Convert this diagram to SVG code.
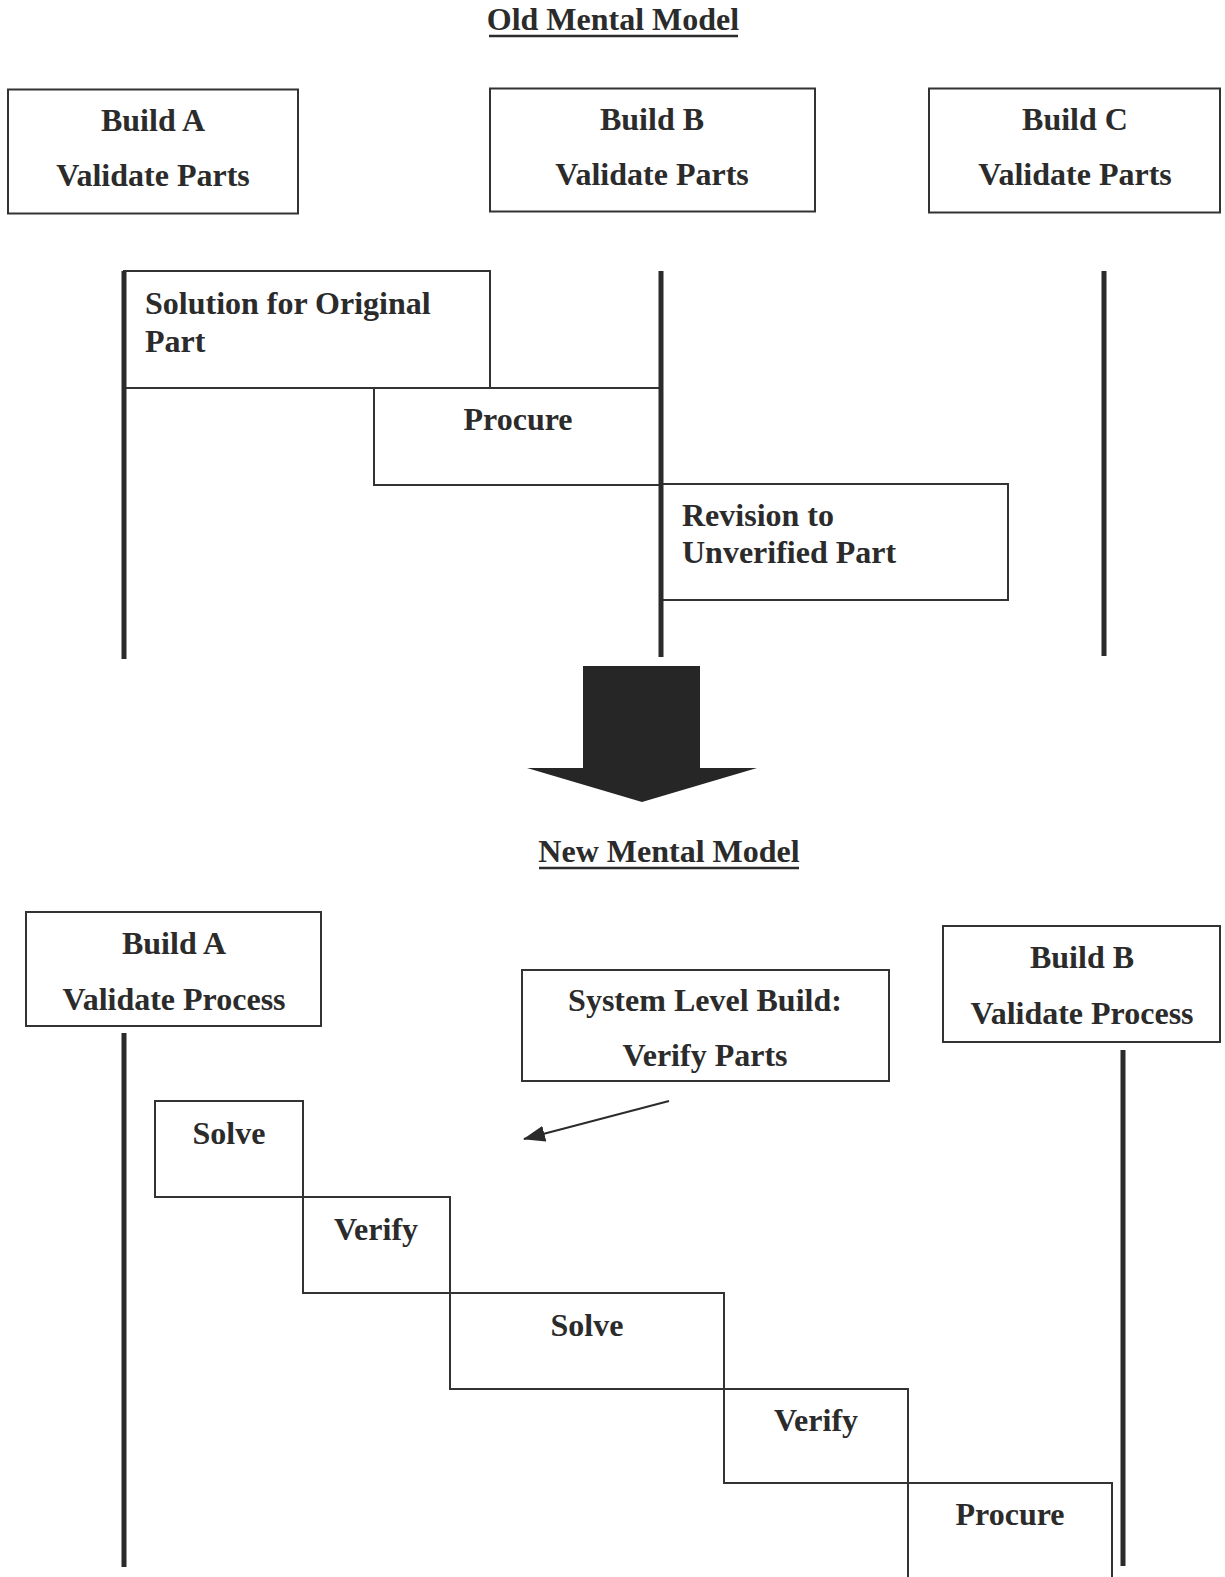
<svg xmlns="http://www.w3.org/2000/svg" width="1225" height="1577" viewBox="0 0 1225 1577">
  <defs>
    <style>
      .box { fill: none; stroke: #333; stroke-width: 2; }
      .bar { stroke: #2b2b2b; stroke-width: 5; fill: none; }
      .t { font-family: "Liberation Serif", "Times New Roman", serif; font-weight: bold; font-size: 32px; fill: #2b2b2b; }
      .c { text-anchor: middle; }
      .ul { stroke: #2b2b2b; stroke-width: 2.5; }
      .link { stroke: #2b2b2b; stroke-width: 2; fill: none; }
    </style>
    <marker id="head" viewBox="0 0 22 16" refX="21" refY="8" markerWidth="22" markerHeight="16" markerUnits="userSpaceOnUse" orient="auto">
      <path d="M0,0 L22,8 L0,16 Z" fill="#2b2b2b"/>
    </marker>
  </defs>
  <rect width="1225" height="1577" fill="#fff"/>

  <!-- Old model -->
  <g id="title-old">
    <text class="t c" x="613" y="30">Old Mental Model</text>
    <line class="ul" x1="489" y1="36" x2="738" y2="36"/>
  </g>
  <g id="old-build-a">
    <rect class="box" x="8" y="89.5" width="290" height="124"/>
    <text class="t c" x="153" y="131">Build A</text>
    <text class="t c" x="153" y="186">Validate Parts</text>
  </g>
  <g id="old-build-b">
    <rect class="box" x="490" y="88.5" width="325" height="123"/>
    <text class="t c" x="652" y="130">Build B</text>
    <text class="t c" x="652" y="185">Validate Parts</text>
  </g>
  <g id="old-build-c">
    <rect class="box" x="929" y="88.5" width="291" height="124"/>
    <text class="t c" x="1075" y="130">Build C</text>
    <text class="t c" x="1075" y="185">Validate Parts</text>
  </g>
  <g id="old-solution">
    <rect class="box" x="124" y="271" width="366" height="117"/>
    <text class="t" x="145" y="314">Solution for Original</text>
    <text class="t" x="145" y="352">Part</text>
  </g>
  <g id="old-procure">
    <rect class="box" x="374" y="388" width="287" height="97"/>
    <text class="t c" x="518" y="430">Procure</text>
  </g>
  <g id="old-revision">
    <rect class="box" x="661" y="484" width="347" height="116"/>
    <text class="t" x="682" y="526">Revision to</text>
    <text class="t" x="682" y="563">Unverified Part</text>
  </g>
  <g id="old-timelines">
    <line class="bar" x1="124" y1="271" x2="124" y2="659"/>
    <line class="bar" x1="661" y1="271" x2="661" y2="657"/>
    <line class="bar" x1="1104" y1="271" x2="1104" y2="656"/>
  </g>

  <!-- Transition arrow -->
  <g id="transition-arrow">
    <path d="M583,666 L700,666 L700,768 L757,768 L642,802 L527,768 L583,768 Z" fill="#262626"/>
  </g>

  <!-- New model -->
  <g id="title-new">
    <text class="t c" x="669" y="862">New Mental Model</text>
    <line class="ul" x1="539" y1="868" x2="799" y2="868"/>
  </g>
  <g id="new-build-a">
    <rect class="box" x="26" y="912" width="295" height="114"/>
    <text class="t c" x="174" y="954">Build A</text>
    <text class="t c" x="174" y="1010">Validate Process</text>
  </g>
  <g id="new-system">
    <rect class="box" x="522" y="970" width="367" height="111"/>
    <text class="t c" x="705" y="1011">System Level Build:</text>
    <text class="t c" x="705" y="1066">Verify Parts</text>
  </g>
  <g id="new-build-b">
    <rect class="box" x="943" y="926" width="277" height="116"/>
    <text class="t c" x="1082" y="968">Build B</text>
    <text class="t c" x="1082" y="1024">Validate Process</text>
  </g>
  <g id="new-timelines">
    <line class="bar" x1="124" y1="1033" x2="124" y2="1567"/>
    <line class="bar" x1="1123" y1="1050" x2="1123" y2="1566"/>
  </g>
  <g id="new-solve-1">
    <rect class="box" x="155" y="1101" width="148" height="96"/>
    <text class="t c" x="229" y="1144">Solve</text>
  </g>
  <g id="new-verify-1">
    <rect class="box" x="303" y="1197" width="147" height="96"/>
    <text class="t c" x="376" y="1240">Verify</text>
  </g>
  <g id="new-solve-2">
    <rect class="box" x="450" y="1293" width="274" height="96"/>
    <text class="t c" x="587" y="1336">Solve</text>
  </g>
  <g id="new-verify-2">
    <rect class="box" x="724" y="1389" width="184" height="94"/>
    <text class="t c" x="816" y="1431">Verify</text>
  </g>
  <g id="new-procure">
    <rect class="box" x="908" y="1483" width="204" height="110"/>
    <text class="t c" x="1010" y="1525">Procure</text>
  </g>

  <g id="connectors">
    <line class="link" x1="669" y1="1101" x2="524" y2="1139" marker-end="url(#head)"/>
  </g>
</svg>
